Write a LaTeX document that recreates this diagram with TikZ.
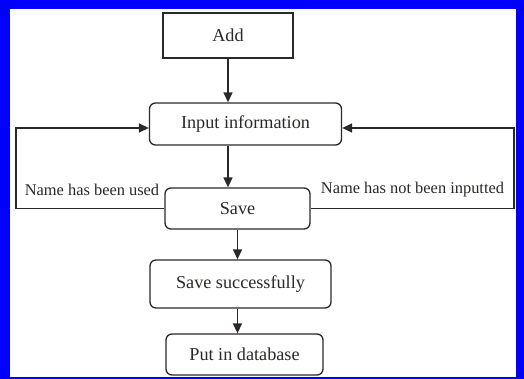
\documentclass[tikz,border=0pt]{standalone}
\usepackage{fontspec}
\setmainfont{Liberation Serif}
\usetikzlibrary{arrows.meta,positioning}
\definecolor{frame}{RGB}{0,0,255}
\definecolor{ink}{RGB}{45,40,40}
\tikzset{
  >={Triangle[length=10pt,width=9pt]},
  box/.style={draw=ink,line width=1.3pt,fill=white,rounded corners=6pt,
    inner sep=0pt,text=ink,font=\fontsize{18.2}{21}\selectfont},
  plain box/.style={box,sharp corners},
  flow/.style={->,line width=1.4pt,draw=ink},
  tag/.style={text=ink,inner sep=0pt,font=\fontsize{16.4}{19}\selectfont},
}
\begin{document}
\begin{tikzpicture}[x=1pt,y=-1pt]
  % blue frame
  \fill[frame] (0,0) rectangle (524,379);
  \fill[white] (10,9) rectangle (516,377);
  \useasboundingbox (0,0) rectangle (524,379);

  \node[plain box,minimum width=130pt,minimum height=45pt] (add) at (228,35.5) {Add};
  \node[box,minimum width=192pt,minimum height=42pt] (input) at (245.5,124) {Input information};
  \node[box,minimum width=145pt,minimum height=41pt] (save) at (237.5,208.5) {Save};
  \node[box,minimum width=181pt,minimum height=48pt] (saved) at (240.5,284) {Save successfully};
  \node[box,minimum width=157pt,minimum height=41pt] (db) at (244.5,354.5) {Put in database};

  \coordinate (lturn) at (16,128);
  \coordinate (rturn) at (514,128);

  \draw[flow] (add.south) -- (add.south |- input.north);
  \draw[flow] (add.south |- input.south) -- (add.south |- save.north);
  \draw[flow] (save.south) -- (save.south |- saved.north);
  \draw[flow] (save.south |- saved.south) -- (save.south |- db.north);

  % back to input
  \draw[flow] (save.west) -| (lturn) -- (lturn -| input.west);
  \draw[flow] (save.east) -| (rturn) -- (rturn -| input.east);

  \node[tag] (used) at (92,190) {Name has been used};
  \node[tag] (empty) at (412.5,190) {Name has not been inputted};
\end{tikzpicture}
\end{document}
